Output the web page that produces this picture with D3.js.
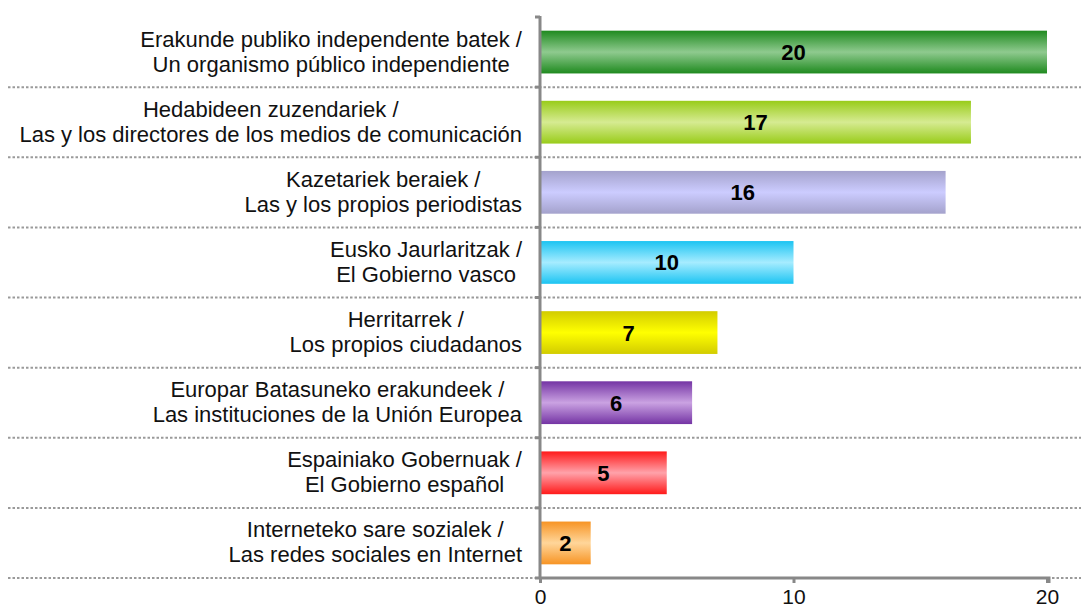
<!DOCTYPE html>
<html lang="en">
<head>
<meta charset="UTF-8">
<title>Bar chart</title>
<script src="https://d3js.org/d3.v7.min.js"></script>
<style>
  body { margin: 0; background: #fff; }
  text { font-family: "Liberation Sans", Arial, sans-serif; }
</style>
</head>
<body>
<svg id="chart" width="1081" height="608"></svg>
<script>
// data
var labelsEu = ["Erakunde publiko independente batek /", "Hedabideen zuzendariek /", "Kazetariek beraiek /",
  "Eusko Jaurlaritzak /", "Herritarrek /", "Europar Batasuneko erakundeek /", "Espainiako Gobernuak /",
  "Interneteko sare sozialek /"];
var labelsEs = ["Un organismo público independiente", "Las y los directores de los medios de comunicación",
  "Las y los propios periodistas", "El Gobierno vasco", "Los propios ciudadanos",
  "Las instituciones de la Unión Europea", "El Gobierno español", "Las redes sociales en Internet"];
var values = [20, 17, 16, 10, 7, 6, 5, 2];
var xTicks = [0, 10, 20];
// edge colour / centre colour for each bar
var edgeColors = ["#1f8a1f", "#99cc1a", "#a4a2cc", "#1cc4f2", "#d2cc00", "#7434a4", "#ff1a1a", "#f79424"];
var midColors = ["#8fca8f", "#d6eb92", "#ccccff", "#a6ecff", "#ffff00", "#caa2e2", "#ffa2aa", "#ffd69a"];

var svg = d3.select("#chart");
var x0 = 540, x1 = 1047, yTop = 17, yBottom = 578;

var x = d3.scaleLinear().domain([0, 20]).range([x0, x1]);
var y = d3.scaleBand().domain(d3.range(values.length)).range([yTop, yBottom]).paddingInner(0.39).paddingOuter(0.195);

var defs = svg.append("defs");
values.forEach(function(v, i) {
  var g = defs.append("linearGradient").attr("id", "grad" + i)
    .attr("x1", 0).attr("y1", 0).attr("x2", 0).attr("y2", 1);
  g.append("stop").attr("offset", "0%").attr("stop-color", edgeColors[i]);
  g.append("stop").attr("offset", "50%").attr("stop-color", midColors[i]);
  g.append("stop").attr("offset", "100%").attr("stop-color", edgeColors[i]);
});

// dotted separators
var rowH = (yBottom - yTop) / values.length;
var bounds = d3.range(1, values.length + 1).map(function(k) { return yTop + k * rowH; });
svg.selectAll(".grid").data(bounds).enter().append("line")
  .attr("x1", 8).attr("x2", 1081)
  .attr("y1", function(d) { return d; }).attr("y2", function(d) { return d; })
  .attr("stroke", "#9a9a9a").attr("stroke-width", 2).attr("stroke-dasharray", "2.5,2");

// bars
svg.selectAll(".bar").data(values).enter().append("rect")
  .attr("x", x(0) + 1)
  .attr("y", function(d, i) { return y(i); })
  .attr("width", function(d) { return x(d) - x(0) - 1; })
  .attr("height", y.bandwidth())
  .attr("fill", function(d, i) { return "url(#grad" + i + ")"; });

// value labels
svg.selectAll(".val").data(values).enter().append("text")
  .attr("x", function(d) { return (x(0) + x(d)) / 2; })
  .attr("y", function(d, i) { return y(i) + y.bandwidth() / 2 + 8; })
  .attr("text-anchor", "middle")
  .style("font-size", "22px").style("font-weight", "bold")
  .text(function(d) { return d; });

// category labels: two centred lines, block right aligned at 522
values.forEach(function(v, i) {
  var cy = yTop + (i + 0.5) * rowH;
  var t = svg.append("text").attr("text-anchor", "middle").style("font-size", "22px").attr("fill", "#111");
  var a = t.append("tspan").attr("y", cy - 5.5).text(labelsEu[i]);
  var b = t.append("tspan").attr("y", cy + 19.5).text(labelsEs[i]);
  var w = Math.max(a.node().getComputedTextLength(), b.node().getComputedTextLength());
  a.attr("x", 522 - w / 2);
  b.attr("x", 522 - w / 2);
});

// axes
var axisColor = "#888";
var yAxis = svg.append("g");
yAxis.append("line").attr("x1", x0).attr("x2", x0).attr("y1", yTop - 1).attr("y2", yBottom + 1)
  .attr("stroke", axisColor).attr("stroke-width", 3);
yAxis.selectAll(".yt").data([yTop].concat(bounds)).enter().append("line")
  .attr("x1", x0 - 5).attr("x2", x0)
  .attr("y1", function(d) { return d; }).attr("y2", function(d) { return d; })
  .attr("stroke", axisColor).attr("stroke-width", 3);

var xAxis = svg.append("g").attr("transform", "translate(0," + yBottom + ")")
  .call(d3.axisBottom(x).tickValues(xTicks).tickSize(5).tickPadding(6));
xAxis.select(".domain").attr("stroke", axisColor).attr("stroke-width", 3)
  .attr("d", "M" + x0 + ",0H" + (x1 + 2) + "V5");
xAxis.selectAll(".tick line").attr("stroke", axisColor).attr("stroke-width", 3);
xAxis.selectAll(".tick text").style("font-size", "21px").attr("fill", "#111")
  .style("font-family", "'Liberation Sans', Arial, sans-serif");
</script>
</body>
</html>
